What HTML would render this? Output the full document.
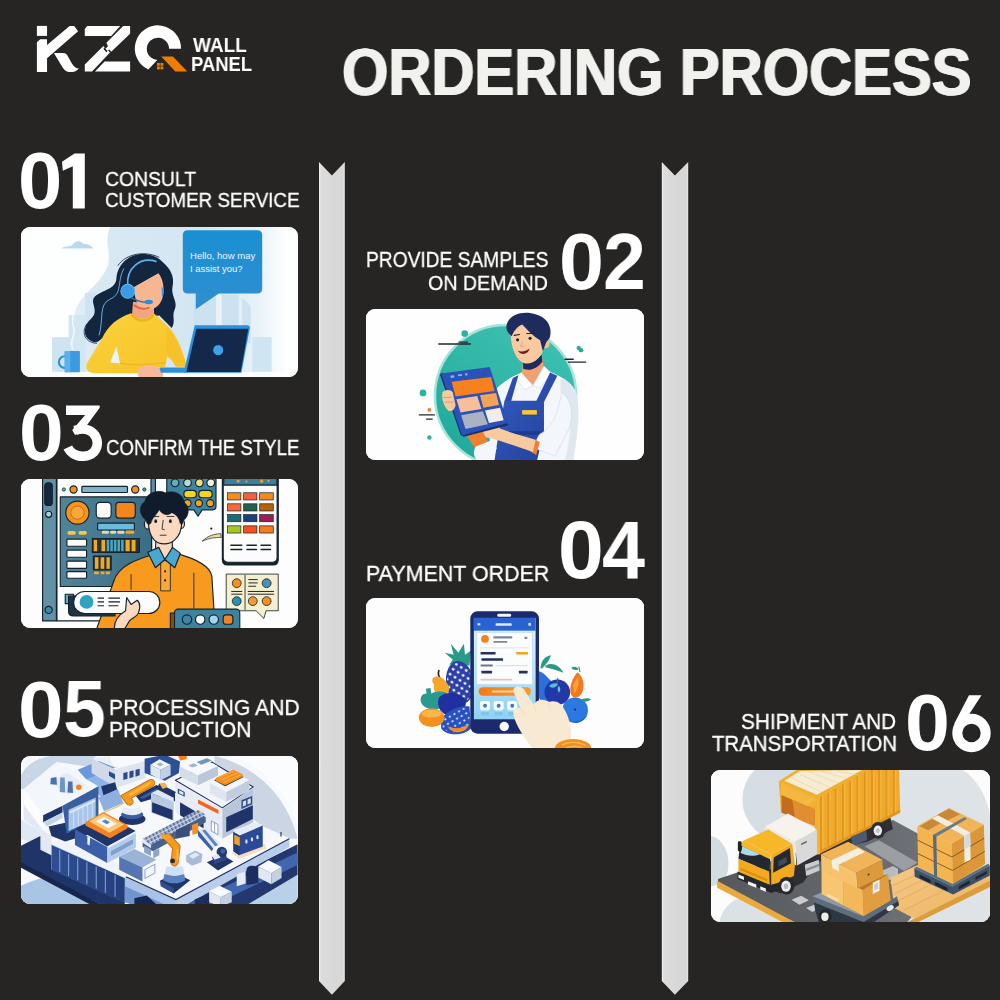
<!DOCTYPE html>
<html><head><meta charset="utf-8"><title>Ordering Process</title>
<style>
html,body{margin:0;padding:0}
body{width:1000px;height:1000px;background:#262524;position:relative;overflow:hidden;font-family:"Liberation Sans",sans-serif}
.t{position:absolute;will-change:transform;white-space:nowrap;line-height:1;transform-origin:0 0;color:#fff}
.n{-webkit-text-stroke:0.3px #fff}
.ttl{text-shadow:1px 0 0 #f1f1ed,-1px 0 0 #f1f1ed}
.card{position:absolute;background:#fff;border-radius:9px;overflow:hidden}
.card svg{position:absolute;left:0;top:0;width:100%;height:100%;display:block}
svg.abs{position:absolute;left:0;top:0}
</style></head><body>
<svg class="abs" width="1000" height="1000" viewBox="0 0 1000 1000">
<defs>
<linearGradient id="barg" x1="0" x2="1" y1="0" y2="0"><stop offset="0" stop-color="#f2f2f2"/><stop offset="0.08" stop-color="#dcdcdc"/><stop offset="0.92" stop-color="#d6d6d6"/><stop offset="1" stop-color="#e6e6e6"/></linearGradient>
</defs>
<polygon fill="url(#barg)" points="319,162 331.9,175.4 344.8,162 344.8,981 331.9,994.8 319,981"/>
<polygon fill="url(#barg)" points="661.8,162 674.9,175.6 688.2,162 688.2,981 674.9,994.8 661.8,981"/>
<g id="logo">
<!-- K -->
<path fill="#fff" d="M36.9,25.9 H47.05 V35.9 H36.9 Z"/>
<path fill="#fff" d="M36.9,42.3 L40.2,39.3 H47.05 V45 L69.6,25.9 L74.2,26 L78.1,31.3 L47.05,58.2 V71.9 H36.9 Z"/>
<path fill="#fff" d="M53.9,53 H63 C66,53 67,54.5 68.5,57.4 C70.5,61 72,64 74,66.2 C75.5,67.8 77,68.3 78.9,68.4 C77.5,70 76,71.2 74,71.7 C72,72.1 70,72.1 68.5,71.9 C66.5,71.5 65.3,70.8 64.1,69.5 C62.8,68 61.8,66.3 60.8,64.5 Z"/>
<!-- Z -->
<path fill="#fff" d="M87.2,26 H120.2 L111.2,35.9 H84.8 V29 Z"/>
<path fill="#fff" d="M123.2,26 H130.1 V33.8 L111.2,51.8 L109.2,49.6 L107.6,51 L105.4,48.8 L108,46.2 L106.4,42.8 Z"/>
<path fill="#fff" d="M103.4,46.1 L104.6,47.4 L103.4,49 L106.4,52.2 L108.2,50.6 L110,52.4 L92,71.6 H84.8 V64.4 Z"/>
<path fill="#fff" d="M104.6,61.4 H130.1 V71.6 H95 Z"/>
<!-- Q -->
<path fill="#fff" d="M181,48.8 A23.1,23.1 0 1 0 148.3,69.5 L157.3,59.9 A11.1,11.1 0 1 1 169,48.8 Z"/>
<path fill="#f07c00" d="M161.2,56.6 H172.9 L187.3,71.6 H175.3 Z"/>
<g fill="#f07c00"><rect x="157" y="62.9" width="2.8" height="2.9"/><rect x="160.5" y="62.9" width="2.8" height="2.9"/><rect x="157" y="66.5" width="2.8" height="2.9"/><rect x="160.5" y="66.5" width="2.8" height="2.9"/></g>
</g>

<g fill="#fff">
<g transform="translate(10,140) scale(0.1)"><path d="M645,135 H748 V685 H628 V262 L528,308 L520,218 Z"/></g>
<g transform="translate(10,395) scale(0.1)"><path d="M560,105 H897 V128 L745,335 L650,400 L622,350 L752,200 H560 Z"/><path fill="none" stroke="#fff" stroke-width="95" d="M650,355 C710,332 785,335 835,385 C885,440 885,520 840,570 C785,625 690,625 630,585 C605,568 590,550 578,525"/></g>
<g transform="translate(900,680) scale(0.1)"><circle cx="715" cy="530" r="142" fill="none" stroke="#fff" stroke-width="100"/><path d="M690,152 H815 L690,345 L600,400 L538,445 Z"/></g>
</g>

</svg>
<div class="t ttl" style="left:342.11px;top:39.07px;font-size:66.2px;font-weight:bold;transform:scaleX(0.9009);color:#f1f1ed">ORDERING PROCESS</div>
<div class="t" style="left:192.6px;top:35.65px;font-size:19.71px;font-weight:bold;transform:scaleX(0.964);color:#fff">WALL</div>
<div class="t" style="left:191.31px;top:54.35px;font-size:20.29px;font-weight:bold;transform:scaleX(0.9092);color:#fff">PANEL</div>
<div class="t n" style="left:105.03px;top:167.83px;font-size:21.13px;font-weight:normal;transform:scaleX(0.916);color:#fff">CONSULT</div>
<div class="t n" style="left:104.66px;top:190.47px;font-size:20.85px;font-weight:normal;transform:scaleX(0.9015);color:#fff">CUSTOMER SERVICE</div>
<div class="t n" style="left:366.46px;top:250.19px;font-size:21.41px;font-weight:normal;transform:scaleX(0.8964);color:#fff">PROVIDE SAMPLES</div>
<div class="t n" style="left:428.02px;top:271.83px;font-size:21.13px;font-weight:normal;transform:scaleX(0.9293);color:#fff">ON DEMAND</div>
<div class="t n" style="left:106.42px;top:436.86px;font-size:21.62px;font-weight:normal;transform:scaleX(0.8628);color:#fff">CONFIRM THE STYLE</div>
<div class="t n" style="left:366.29px;top:562.62px;font-size:22.54px;font-weight:normal;transform:scaleX(0.9507);color:#fff">PAYMENT ORDER</div>
<div class="t n" style="left:108.8px;top:696.04px;font-size:22.75px;font-weight:normal;transform:scaleX(0.9315);color:#fff">PROCESSING AND</div>
<div class="t n" style="left:108.8px;top:718.52px;font-size:22.54px;font-weight:normal;transform:scaleX(0.9403);color:#fff">PRODUCTION</div>
<div class="t n" style="left:740.96px;top:711.35px;font-size:21.69px;font-weight:normal;transform:scaleX(0.9558);color:#fff">SHIPMENT AND</div>
<div class="t n" style="left:711.59px;top:734.19px;font-size:21.41px;font-weight:normal;transform:scaleX(0.954);color:#fff">TRANSPORTATION</div>
<div class="t" style="left:17.63px;top:140.56px;font-size:79.58px;font-weight:bold;transform:scaleX(0.9946);color:#fff">0</div>
<div class="t" style="left:558.77px;top:222.06px;font-size:79.58px;font-weight:bold;transform:scaleX(1.016);color:#fff">0</div>
<div class="t" style="left:603.49px;top:222.11px;font-size:79.29px;font-weight:bold;transform:scaleX(0.9704);color:#fff">2</div>
<div class="t" style="left:18.78px;top:392.56px;font-size:79.58px;font-weight:bold;transform:scaleX(1.0107);color:#fff">0</div>
<div class="t" style="left:557.51px;top:509.85px;font-size:80.99px;font-weight:bold;transform:scaleX(1.0167);color:#fff">0</div>
<div class="t" style="left:602.45px;top:509.4px;font-size:81.88px;font-weight:bold;transform:scaleX(0.9447);color:#fff">4</div>
<div class="t" style="left:18.22px;top:669.46px;font-size:80.28px;font-weight:bold;transform:scaleX(1.0203);color:#fff">0</div>
<div class="t" style="left:63.19px;top:669.2px;font-size:80.0px;font-weight:bold;transform:scaleX(0.9625);color:#fff">5</div>
<div class="t" style="left:904.77px;top:682.46px;font-size:80.28px;font-weight:bold;transform:scaleX(1.0071);color:#fff">0</div>

<div class="card" style="left:21.4px;top:227px;width:276.6px;height:150px"><svg viewBox="0 0 1000 542" preserveAspectRatio="none">
<defs>
<linearGradient id="c1bg" x1="0" x2="1" y1="0" y2="0"><stop offset="0" stop-color="#e2eef6"/><stop offset="0.12" stop-color="#d8e9f4"/><stop offset="0.6" stop-color="#d3e6f2"/><stop offset="0.85" stop-color="#e6f1f8"/><stop offset="1" stop-color="#fdfefe"/></linearGradient>
<linearGradient id="c1bub" x1="0" x2="0" y1="0" y2="1"><stop offset="0" stop-color="#1a8fd4"/><stop offset="1" stop-color="#2f8fcf"/></linearGradient>
<linearGradient id="c1yel" x1="0" x2="1" y1="0" y2="1"><stop offset="0" stop-color="#fbd23a"/><stop offset="1" stop-color="#f7c228"/></linearGradient>
</defs>
<rect width="1000" height="542" fill="#fdfefe"/>
<path fill="url(#c1bg)" d="M322,0 C292,70 345,110 295,175 C255,235 195,255 192,335 L192,524 L960,524 L960,0 Z"/>

<!-- buildings -->
<rect x="112" y="398" width="90" height="125" fill="#cfe4f1"/>
<rect x="172" y="318" width="62" height="205" fill="#d3e7f3"/>
<rect x="232" y="238" width="40" height="120" fill="#cfe3f0"/>
<rect x="625" y="245" width="80" height="120" fill="#cde2f0"/>
<rect x="725" y="245" width="62" height="120" fill="#cde2f0"/>
<path d="M800,255 L830,285 L830,420 L800,420Z" fill="#cde2f0"/>
<rect x="705" y="245" width="20" height="120" fill="#e9f3f9"/>
<rect x="836" y="398" width="70" height="125" fill="#d0e5f2"/>
<!-- cloud -->
<path fill="#b9d9ef" d="M145,78 C160,68 175,72 185,66 C195,50 215,46 225,62 C240,60 255,68 262,78 Z"/>
<!-- steam -->
<path d="M187,440 C170,410 205,390 188,355 C180,335 195,320 190,300" fill="none" stroke="#f4fafd" stroke-width="5" stroke-linecap="round"/>
<!-- bubble -->
<path fill="url(#c1bub)" d="M603,12 H854 Q872,12 872,30 V222 Q872,240 854,240 H715 L632,297 V240 H603 Q585,240 585,222 V30 Q585,12 603,12Z"/>
<text x="611" y="116" font-family="Liberation Sans, sans-serif" font-size="34" fill="#eaf6fd" textLength="236" lengthAdjust="spacingAndGlyphs">Hello, how may</text>
<text x="611" y="164" font-family="Liberation Sans, sans-serif" font-size="34" fill="#eaf6fd" textLength="190" lengthAdjust="spacingAndGlyphs">I assist you?</text>
<!-- hair back -->
<path fill="#12263f" d="M440,98 C395,98 350,130 345,185 C342,225 300,225 268,250 C245,272 285,300 255,330 C225,355 222,395 250,410 C265,420 280,418 290,405 L400,330 L500,320 L545,365 C560,345 545,320 555,300 C570,270 540,250 548,215 C556,180 540,150 510,125 C490,105 465,98 440,98Z"/>
<path fill="none" stroke="#12263f" stroke-width="3" d="M350,140 C380,95 450,85 500,110"/>
<path fill="none" stroke="#12263f" stroke-width="3" d="M238,350 C215,385 235,420 275,420"/>
<!-- neck -->
<path fill="#f3a583" d="M405,270 L480,280 L482,335 L400,335Z"/>
<!-- sweater -->
<path fill="url(#c1yel)" d="M398,312 C350,328 315,355 292,405 L238,492 C230,515 245,528 270,528 L432,528 L440,506 L522,506 L528,468 L560,492 L592,502 C588,450 565,392 530,358 C510,338 492,322 480,312 C462,338 420,338 398,312Z"/>
<path fill="none" stroke="#eeb21c" stroke-width="9" d="M400,316 C420,345 462,345 480,316"/>
<path fill="#e9f3f9" d="M345,432 L358,492 L322,490Z"/>
<path fill="none" stroke="#efb61f" stroke-width="4" d="M358,492 C400,500 470,500 522,490"/>
<path fill="#f7c228" d="M528,365 C560,400 590,450 598,505 L560,505 L525,450Z"/>
<!-- face -->
<path fill="#f6b692" d="M408,215 L497,166 C512,185 518,215 514,245 C510,275 490,298 460,300 C430,300 410,275 408,215Z"/>
<path fill="none" stroke="#e8683e" stroke-width="7" stroke-linecap="round" d="M410,283 C425,296 445,298 462,292"/>
<!-- hair front swoop -->
<path fill="#12263f" d="M400,225 C395,170 430,125 470,125 C500,128 520,160 515,200 C512,190 505,175 497,166 L410,216Z"/>
<!-- headset -->
<path fill="none" stroke="#5fb2ec" stroke-width="6" d="M386,212 C380,150 430,105 490,125"/>
<path fill="none" stroke="#7fc1f0" stroke-width="3" d="M372,150 C345,200 370,240 320,262 C280,282 300,330 282,392"/>
<circle cx="386" cy="232" r="25" fill="#3a9be2" stroke="#62b4ee" stroke-width="4"/>
<path fill="#3a9be2" d="M508,212 Q522,235 510,258 Z"/>
<path fill="none" stroke="#1f6db0" stroke-width="5" stroke-linecap="round" d="M400,256 C420,268 440,272 458,273"/>
<ellipse cx="462" cy="271" rx="15" ry="8" fill="#2f8edb"/>
<!-- hand -->
<path fill="#f6b89a" d="M420,520 C425,500 460,495 490,505 C510,512 518,530 512,542 L425,542Z"/>
<!-- laptop -->
<path fill="#2a90dc" d="M500,508 L602,508 L596,527 L506,527Z"/>
<path fill="#2a90dc" d="M628,355 L818,355 Q830,356 827,368 L797,527 L588,527Z"/>
<path fill="#13284b" d="M634,368 L822,368 L794,524 L598,524Z"/>
<circle cx="713" cy="445" r="20" fill="#3ea2e8" stroke="#0e1f3c" stroke-width="3"/>
<!-- mug -->
<circle cx="158" cy="488" r="21" fill="none" stroke="#2f8fd8" stroke-width="8"/>
<rect x="158" y="448" width="55" height="77" rx="3" fill="#3a9be2"/>
<rect x="158" y="448" width="20" height="77" rx="3" fill="#5cb1ec"/>
</svg>
</div>
<div class="card" style="left:366.4px;top:308.5px;width:278.1px;height:151.5px"><svg viewBox="0 0 1000 545" preserveAspectRatio="none">
<defs>
<linearGradient id="c2teal" x1="0.8" x2="0.2" y1="0" y2="1"><stop offset="0" stop-color="#3fc1b1"/><stop offset="1" stop-color="#1fa99b"/></linearGradient>
<linearGradient id="c2blue" x1="0" x2="1" y1="0" y2="1"><stop offset="0" stop-color="#3158bd"/><stop offset="1" stop-color="#24449c"/></linearGradient>
</defs>
<rect width="1000" height="545" fill="#fefefe"/>
<circle cx="502" cy="312" r="254" fill="url(#c2teal)" stroke="#a9e3db" stroke-width="9"/>
<!-- decorations -->
<circle cx="355" cy="88" r="12" fill="#2bb39f"/><circle cx="205" cy="302" r="12" fill="#2bb39f"/><circle cx="228" cy="462" r="8" fill="#2bb39f"/>
<circle cx="765" cy="140" r="8" fill="#2bb39f"/><circle cx="773" cy="148" r="8" fill="#25a893"/><circle cx="228" cy="363" r="7" fill="#f08030"/>
<g stroke="#26242b" stroke-width="5" stroke-linecap="round"><path d="M262,126 H375"/><path d="M335,119 H365"/><path d="M716,181 H745"/><path d="M728,191 H790"/><path d="M192,381 H246"/><path d="M218,396 H238"/></g>
<!-- shirt body -->
<path fill="#f3f6fb" d="M470,285 C500,255 540,235 570,225 L650,220 C700,240 745,265 755,300 C770,360 765,430 745,545 L440,545 C450,480 440,420 450,370 C455,335 460,305 470,285Z"/>
<path fill="#dfe7f3" d="M700,300 C740,340 745,430 715,545 L745,545 C765,430 770,360 755,300 C745,275 720,255 700,250Z"/>
<!-- neck -->
<path fill="#f3a070" d="M565,185 L632,160 L640,225 L600,275 L560,235Z"/>
<path fill="#1d2c5c" d="M565,190 C585,200 610,185 632,165 L634,190 C615,215 590,225 565,215Z"/>
<!-- collar -->
<path fill="#ffffff" stroke="#c9d4e8" stroke-width="2" d="M558,228 L600,275 L570,290 L540,250Z"/>
<path fill="#ffffff" stroke="#c9d4e8" stroke-width="2" d="M640,205 L668,232 L625,285 L600,275Z"/>
<!-- overalls -->
<path fill="url(#c2blue)" d="M528,248 L548,238 L522,332 L498,332Z"/>
<path fill="url(#c2blue)" d="M662,228 L688,240 L640,335 L612,332Z"/>
<path fill="url(#c2blue)" d="M498,330 L640,330 L640,440 L615,545 L462,545 L478,440Z"/>
<path fill="#1f3a8c" d="M478,440 L640,440 L636,452 L476,452Z"/>
<rect x="560" y="362" width="56" height="19" rx="3" fill="#f5c540" stroke="#1c2f78" stroke-width="2"/>
<!-- right arm (viewer right) -->
<path fill="#f3f6fb" stroke="#cdd8ea" stroke-width="2" d="M705,300 C745,330 750,400 720,450 C705,480 690,510 680,530 L605,500 C610,480 615,462 625,450 C650,440 680,400 690,360Z"/>
<path fill="#f08030" d="M608,470 L625,478 L612,525 L596,515Z"/>
<path fill="#f9c9a0" d="M610,470 C560,455 500,440 460,420 C435,410 405,420 400,435 C398,450 420,462 450,465 C500,480 560,500 600,515Z"/>
<!-- left sleeve & orange -->
<path fill="#f08030" d="M362,455 L420,440 L440,480 L390,498Z"/>
<path fill="#f3f6fb" d="M395,495 L445,475 L470,500 L455,545 L400,545 C385,530 385,510 395,495Z"/>
<!-- tablet -->
<path fill="#1a2e70" d="M266,236 L276,228 L352,458 L340,452Z"/>
<path fill="#1a2e70" d="M340,452 L505,408 L512,418 L352,460Z"/>
<path fill="#2b52b8" d="M270,232 L445,209 L510,410 L345,455Z"/>
<path fill="#f5821f" d="M308,262 L450,245 L462,295 L322,315Z"/>
<path fill="#f6bf9a" d="M325,325 L400,313 L415,360 L340,372Z"/>
<path fill="#f5a35a" d="M410,310 L468,302 L478,345 L422,355Z"/>
<path fill="#aab2c4" d="M342,382 L420,368 L438,415 L358,432Z"/>
<path fill="#f1eee9" d="M428,365 L482,355 L495,400 L442,410Z"/>
<path fill="#7fb6ee" d="M303,240 L316,238 L318,246 L305,248Z"/><path fill="#7fb6ee" d="M330,236 L345,234 L346,240 L331,242Z"/><path fill="#7fb6ee" d="M355,232 L364,231 L366,238 L357,239Z"/>
<!-- left hand -->
<path fill="#f9c9a0" d="M275,300 C285,288 305,290 312,300 L322,345 C320,362 305,372 295,365 C280,350 270,320 275,300Z"/>
<path fill="none" stroke="#d9895c" stroke-width="2.5" d="M278,318 H308 M282,335 H314"/>
<!-- head -->
<circle cx="646" cy="126" r="15" fill="#f6bd92"/>
<path fill="#f9c9a0" d="M520,90 C520,60 560,45 600,50 C635,55 648,90 642,130 C636,170 605,198 575,196 C545,192 522,150 520,90Z"/>
<path fill="#1d2c5c" d="M505,62 C508,25 560,2 612,20 C655,32 672,70 660,105 L648,120 L636,152 L626,112 C600,98 580,75 562,56 C545,62 532,78 524,98 C512,88 503,76 505,62Z"/>
<circle cx="545" cy="111" r="5.5" fill="#26202a"/><circle cx="590" cy="105" r="5.5" fill="#26202a"/>
<path fill="none" stroke="#26202a" stroke-width="4" stroke-linecap="round" d="M533,95 L552,92 M578,88 L600,88"/>
<path fill="#6a2020" d="M546,150 C560,156 575,152 588,142 C584,162 560,170 546,150Z"/>
<path fill="none" stroke="#e29a6c" stroke-width="3" d="M562,118 L556,134 L565,136"/>
</svg>
</div>
<div class="card" style="left:21.4px;top:478.6px;width:276.6px;height:149.4px"><svg viewBox="0 0 1000 542" preserveAspectRatio="none">
<defs>
<linearGradient id="c3pan" x1="0" x2="1" y1="0" y2="0"><stop offset="0" stop-color="#4f8499"/><stop offset="1" stop-color="#3b6d84"/></linearGradient>
</defs>
<rect width="1000" height="542" fill="#fdfdfd"/>
<g stroke="#15222c" stroke-width="4.2" stroke-linejoin="round">
<!-- window -->
<rect x="130" y="-5" width="342" height="520" fill="#fbfcfc"/>
<rect x="470" y="-5" width="16" height="62" fill="#5a8fb0"/>
<!-- left rail -->
<rect x="78" y="-5" width="50" height="520" fill="#6290a5"/>
<rect x="86" y="14" width="27" height="82" rx="11" fill="#14283c"/>
<circle cx="100" cy="128" r="11" fill="#a8d4dc"/>
<circle cx="100" cy="475" r="13" fill="#3a8aa6"/>
<!-- top bar -->
<circle cx="155" cy="38" r="6" fill="#5fb0b0" stroke-width="2.5"/>
<circle cx="190" cy="38" r="13" fill="#f5901e"/>
<rect x="220" y="27" width="165" height="22" rx="3" fill="#7fb3cc"/>
<circle cx="413" cy="38" r="13" fill="#f5901e"/>
<circle cx="446" cy="38" r="6" fill="#3f9a90" stroke-width="2.5"/>
<!-- panel -->
<rect x="142" y="65" width="330" height="325" fill="url(#c3pan)"/>
<circle cx="204" cy="122" r="42" fill="#f5941e"/>
<circle cx="204" cy="122" r="24" fill="#f7a83a" stroke="#c8620c" stroke-width="3"/>
<rect x="272" y="85" width="54" height="57" rx="13" fill="#fbfbf8"/>
<rect x="343" y="85" width="70" height="57" rx="11" fill="#f5861f"/>
<rect x="277" y="160" width="133" height="25" rx="3" fill="#6bbbdc"/>
<rect x="166" y="218" width="71" height="26" rx="3" fill="#fdfdfd"/>
<rect x="166" y="258" width="71" height="26" rx="3" fill="#fdfdfd"/>
<rect x="166" y="298" width="71" height="26" rx="3" fill="#fdfdfd"/>
<rect x="166" y="336" width="71" height="24" rx="3" fill="#fdfdfd"/>
<rect x="258" y="216" width="170" height="50" fill="#1e3540"/>
<rect x="262" y="280" width="64" height="50" fill="#1e3540"/>
</g>
<g fill="#f6c84a"><rect x="168" y="189" width="30" height="13" rx="6"/><rect x="208" y="189" width="30" height="13" rx="6"/></g>
<g fill="#d9dcb8"><rect x="292" y="188" width="26" height="11" rx="5"/><rect x="322" y="188" width="22" height="11" rx="5"/><rect x="348" y="188" width="26" height="11" rx="5"/></g><rect x="378" y="187" width="32" height="12" rx="5" fill="#f5a030"/>
<g fill="#f5a81f"><rect x="263" y="221" width="12" height="41"/><rect x="291" y="221" width="13" height="41"/><rect x="378" y="221" width="15" height="41"/><rect x="400" y="221" width="14" height="41"/>
<rect x="267" y="284" width="13" height="42"/><rect x="288" y="284" width="13" height="42"/><rect x="309" y="284" width="12" height="42"/>
<rect x="264" y="336" width="18" height="10" rx="4"/><rect x="288" y="336" width="14" height="10" rx="4"/><rect x="306" y="336" width="16" height="10" rx="4"/></g>
<g fill="#4aa8c0"><rect x="310" y="221" width="9" height="41"/><rect x="323" y="221" width="9" height="41"/><rect x="336" y="221" width="9" height="41"/><rect x="349" y="221" width="9" height="41"/><rect x="362" y="221" width="9" height="41"/></g>
<g stroke="#15222c" stroke-width="4.2" stroke-linejoin="round">
<!-- top bubble -->
<path fill="#3f86a3" d="M527,-5 H705 V100 Q705,112 693,112 H655 L640,135 L625,112 H540 Q527,112 527,100Z"/>
<circle cx="557" cy="14" r="14" fill="#5fb0b0"/><circle cx="602" cy="14" r="14" fill="#b8d8d0"/><circle cx="645" cy="14" r="14" fill="#f0e070"/><circle cx="686" cy="14" r="14" fill="#f4f0e0"/>
<rect x="589" y="41" width="45" height="27" rx="12" fill="#f5d31f"/><rect x="643" y="41" width="48" height="27" rx="12" fill="#f5d31f"/>
<circle cx="602" cy="88" r="13" fill="#f5a020"/><circle cx="643" cy="88" r="13" fill="#f5a020"/><circle cx="684" cy="88" r="13" fill="#f5a020"/>
<!-- beak -->
<path fill="#e8dfa0" d="M655,226 C675,205 700,200 722,198 L724,212 C700,212 680,214 655,226Z" stroke-width="2.5"/>
<circle cx="688" cy="180" r="4" fill="#15222c" stroke="none"/>
<!-- phone panel -->
<path fill="#15222c" d="M728,-5 H930 V292 Q930,312 912,312 H746 Q728,312 728,292Z"/>
<path fill="#fcfcfc" d="M731,-5 H926 V285 Q926,302 910,302 H747 Q731,302 731,285Z"/>
<rect x="733" y="-5" width="192" height="27" fill="#3d7f9a"/>
</g>
<g fill="#f5a020"><circle cx="785" cy="8" r="5"/><circle cx="815" cy="9" r="4"/><circle cx="870" cy="8" r="6"/><circle cx="895" cy="7" r="4"/></g>
<g stroke="#15222c" stroke-width="2.5">
<rect x="747" y="50" width="48" height="26" fill="#f58a1f"/><rect x="805" y="50" width="48" height="26" fill="#f4603a"/><rect x="863" y="50" width="49" height="26" fill="#f58a1f"/>
<rect x="747" y="90" width="48" height="26" fill="#f46a3a"/><rect x="805" y="90" width="48" height="26" fill="#24604e"/><rect x="863" y="90" width="49" height="26" fill="#b8600c"/>
<rect x="747" y="129" width="48" height="26" fill="#1e6a72"/><rect x="805" y="129" width="48" height="26" fill="#1f3f7a"/><rect x="863" y="129" width="49" height="26" fill="#9a1f4e"/>
<rect x="747" y="170" width="48" height="26" fill="#a8c820"/><rect x="805" y="170" width="48" height="26" fill="#f4501f"/><rect x="863" y="170" width="49" height="26" fill="#f57a20"/>
</g>
<g stroke="#15222c" stroke-width="5.5" stroke-linecap="round"><path d="M759,240 H798 M817,240 H851 M868,240 H902 M759,256 H798 M817,256 H851 M868,256 H902"/></g>
<!-- lower right card -->
<g stroke="#15222c" stroke-width="3" stroke-linejoin="round">
<path fill="#f6efcf" d="M742,345 H930 V478 H886 L878,506 L850,478 H742Z"/>
<path d="M810,348 V475" fill="none"/>
<circle cx="780" cy="378" r="16" fill="#f5901e"/><circle cx="888" cy="378" r="16" fill="#4a90b8"/>
<circle cx="780" cy="443" r="16" fill="#2f8fb0"/><circle cx="838" cy="443" r="16" fill="#f59a3a"/><circle cx="888" cy="443" r="16" fill="#f5901e"/>
<path d="M822,365 H856 M822,377 H856 M822,389 H850 M760,408 H800 M760,418 H800 M820,408 H915 M820,418 H915" fill="none" stroke-width="3.5"/>
</g>
<!-- man: shirt -->
<g stroke="#15222c" stroke-width="4.2" stroke-linejoin="round">
<path fill="#f79a1e" d="M485,272 C420,290 350,315 335,372 L272,548 L702,548 L690,352 C682,312 620,286 560,270 L520,292Z"/>
<path d="M398,345 V402 M625,340 V470" fill="none" stroke-width="3"/>
<path fill="#fbd9c0" d="M488,215 L546,215 L548,262 L520,292 L486,262Z"/>
<rect x="505" y="296" width="35" height="110" fill="#f7a838" stroke-width="3"/>
<path fill="#4aa8d0" d="M458,266 L498,248 L520,292 L486,322Z"/>
<path fill="#4aa8d0" d="M548,248 L576,270 L556,322 L520,292Z"/>
<!-- ears + face -->
<ellipse cx="457" cy="165" rx="11" ry="17" fill="#fbd9c0"/><ellipse cx="580" cy="162" rx="11" ry="17" fill="#fbd9c0"/>
<path fill="#fbd9c0" d="M463,120 C470,95 570,95 578,120 C585,160 580,200 555,222 C535,240 500,240 482,222 C460,200 458,160 463,120Z"/>
<!-- hair -->
<path fill="#101c2c" stroke-width="2" d="M452,150 C425,130 425,95 448,82 C450,55 490,35 522,50 C550,38 590,55 590,85 C612,100 608,135 588,150 C585,165 580,170 575,160 C572,140 560,128 545,122 C530,135 510,130 500,112 C490,130 475,140 470,160 C462,170 455,165 452,150Z"/>
</g>
<ellipse cx="487" cy="153" rx="5" ry="7" fill="#15222c"/><ellipse cx="540" cy="153" rx="5" ry="7" fill="#15222c"/>
<path d="M474,136 H498 M528,136 H553 M514,150 L510,182 L518,184 M503,204 H525" fill="none" stroke="#15222c" stroke-width="3" stroke-linecap="round"/>
<circle cx="521" cy="335" r="4" fill="#15222c"/><circle cx="521" cy="368" r="4" fill="#15222c"/>
<!-- pill bubble -->
<g stroke="#15222c" stroke-width="4.2" stroke-linejoin="round">
<rect x="160" y="418" width="30" height="34" fill="#5ab0d0"/>
<path fill="#1c3444" d="M172,425 H340 V497 H190 Q172,497 172,480Z"/>
<rect x="190" y="408" width="312" height="80" rx="40" fill="#fbfcfd"/>
<circle cx="237" cy="446" r="25" fill="#2fa3c2" stroke="none"/>
<path d="M277,432 H300 M316,432 H358 M277,446 H300 M316,446 H358 M277,460 H300 M316,460 H352" fill="none"/>
<!-- hand -->
<path fill="#fbd9c0" d="M338,548 C335,520 350,495 378,478 L382,430 L398,455 L420,440 C432,450 430,470 425,485 C420,500 400,505 392,515 L372,548Z"/>
<!-- bottom device -->
<rect x="540" y="486" width="18" height="62" fill="#8a4a14"/>
<rect x="555" y="472" width="236" height="80" rx="13" fill="#3d83a0" stroke-width="4"/>
<circle cx="600" cy="510" r="17" fill="#3b86a6"/><circle cx="648" cy="510" r="17" fill="#fbfbf8"/><circle cx="697" cy="510" r="17" fill="#a8d4e8"/><rect x="731" y="493" width="35" height="34" rx="10" fill="#f5821f"/>
</g>
</svg>
</div>
<div class="card" style="left:366.4px;top:597.6px;width:278.1px;height:150.9px"><svg viewBox="0 0 1000 545" preserveAspectRatio="none">
<defs>
<linearGradient id="c4scr" x1="0" x2="0" y1="0" y2="1"><stop offset="0" stop-color="#e4f3fb"/><stop offset="0.6" stop-color="#b4e0f6"/><stop offset="1" stop-color="#8fd2f2"/></linearGradient>
<linearGradient id="c4btn" x1="0" x2="1" y1="0" y2="0"><stop offset="0" stop-color="#f57a18"/><stop offset="1" stop-color="#f79a2e"/></linearGradient>
<pattern id="c4dots" width="21" height="21" patternUnits="userSpaceOnUse" patternTransform="rotate(40)"><ellipse cx="10" cy="10" rx="5.5" ry="4.5" fill="#f4f7fd"/></pattern>
<pattern id="c4dots2" width="19" height="19" patternUnits="userSpaceOnUse" patternTransform="rotate(-30)"><ellipse cx="9" cy="9" rx="4.5" ry="3.5" fill="#d9ecfb"/></pattern>
</defs>
<rect width="1000" height="545" fill="#fdfdfd"/>
<!-- left fruits -->
<path fill="#2a9a88" d="M283,198 L315,205 L305,165 L332,198 L352,165 L356,205 L378,190 L372,245 L300,240 L312,222Z"/>
<ellipse cx="338" cy="305" rx="50" ry="78" fill="#2b3fa8" transform="rotate(-8 338 305)"/>
<ellipse cx="338" cy="305" rx="46" ry="72" fill="url(#c4dots)" transform="rotate(-8 338 305)"/>
<path d="M262,262 C258,275 262,285 268,292" stroke="#2a2418" stroke-width="6" fill="none" stroke-linecap="round"/>
<path fill="#f5a828" d="M240,290 C250,278 275,285 285,300 C305,320 305,345 280,350 C255,355 238,335 245,312 C238,305 236,296 240,290Z"/>
<path fill="#2a9a90" d="M215,328 L232,325 L235,345 C255,335 285,335 295,350 C300,380 280,402 245,402 C210,402 190,380 198,358 C202,348 210,345 218,345Z"/>
<path fill="#2030a0" d="M262,360 C285,335 335,340 355,365 C368,385 350,415 315,425 C280,430 250,400 262,360Z"/>
<path fill="#2850c0" d="M270,445 C275,415 330,385 372,392 L378,470 C350,500 290,500 270,470Z"/>
<path fill="url(#c4dots2)" d="M275,445 C280,418 330,392 370,398 L374,465 C350,492 295,492 275,468Z"/>
<ellipse cx="236" cy="432" rx="46" ry="34" fill="#f5901e"/>
<ellipse cx="236" cy="418" rx="36" ry="14" fill="#f9b64a"/>
<path fill="#f5901e" d="M293,462 C315,475 345,472 370,455 C365,485 315,500 293,462Z"/>
<!-- right fruits -->
<path fill="#2a9a88" d="M628,250 C630,225 645,210 665,207 C660,225 648,240 632,256Z"/>
<path fill="#2a9a88" d="M645,245 C665,230 695,240 710,270 C690,262 668,255 645,250Z"/>
<path fill="#2a70d8" d="M622,265 C645,270 655,295 672,305 C690,320 690,360 660,372 C640,378 625,370 622,360Z"/>
<circle cx="688" cy="340" r="46" fill="#2238a8"/>
<path d="M690,290 L686,312" stroke="#1c7a70" stroke-width="5"/>
<path fill="#5ab8d8" d="M658,318 C668,306 684,306 690,312 C682,325 668,328 658,318Z"/><path fill="#6ac0e0" d="M692,318 C700,322 700,335 694,342 C688,335 688,325 692,318Z"/>
<path fill="#2a9a88" d="M738,252 C748,245 760,248 764,258 C752,262 744,260 738,252Z"/><path d="M765,248 L770,268" stroke="#2a9a88" stroke-width="4"/>
<path fill="#f5781f" d="M760,268 C785,285 790,330 770,352 C755,365 738,360 735,340 C732,315 745,285 760,268Z"/>
<path fill="#f9a040" d="M745,315 C750,300 758,290 764,285 C766,310 760,335 748,345Z"/>
<circle cx="752" cy="405" r="46" fill="#2a78e0"/>
<path fill="#1f60c8" d="M720,438 C745,455 780,448 796,420 C790,440 770,452 750,451Z"/>
<circle cx="752" cy="403" r="4" fill="#16306a"/>
<path fill="#2a9a88" d="M770,370 C782,360 800,360 810,366 C798,376 782,378 770,370Z"/>
<!-- phone -->
<rect x="375" y="48" width="247" height="442" rx="26" fill="#1a2a6c"/>
<rect x="472" y="57" width="50" height="11" rx="5" fill="#f4f6fb"/>
<rect x="388" y="72" width="222" height="366" fill="url(#c4scr)"/>
<rect x="388" y="72" width="222" height="46" fill="#2a62d2"/>
<rect x="466" y="91" width="58" height="9" rx="2" fill="#dce9fb"/><rect x="401" y="91" width="10" height="8" fill="#dce9fb"/><rect x="584" y="90" width="9" height="10" fill="#dce9fb"/>
<rect x="398" y="124" width="200" height="188" fill="#fafcfe" stroke="#bde0f2" stroke-width="3"/>
<circle cx="428" cy="148" r="14" fill="#f5821f"/>
<g fill="#7a859a"><rect x="458" y="138" width="68" height="8" rx="2"/><rect x="458" y="155" width="50" height="7" rx="2"/><rect x="570" y="140" width="10" height="8"/></g>
<rect x="410" y="179" width="176" height="2.5" fill="#d2dbe6"/>
<g fill="#26305e"><rect x="412" y="195" width="54" height="9" rx="2"/><rect x="415" y="218" width="78" height="9" rx="2"/><rect x="415" y="263" width="38" height="10" rx="2"/><rect x="550" y="263" width="31" height="10" rx="2"/></g>
<rect x="540" y="195" width="43" height="9" rx="2" fill="#f5a020"/>
<rect x="412" y="240" width="44" height="7" rx="2" fill="#6a7690"/><rect x="466" y="243" width="116" height="3" fill="#cfd8e4"/>
<rect x="412" y="292" width="114" height="6" rx="2" fill="#e2c4c0"/>
<rect x="405" y="322" width="188" height="31" rx="15" fill="url(#c4btn)"/>
<rect x="452" y="334" width="92" height="7" rx="3" fill="#fbd2a0"/>
<g fill="#f6fbfe"><rect x="410" y="372" width="36" height="34" rx="9"/><rect x="459" y="372" width="36" height="34" rx="9"/><rect x="508" y="372" width="36" height="34" rx="9"/></g>
<g fill="#3a78d0"><circle cx="428" cy="389" r="7"/><circle cx="477" cy="389" r="7"/><circle cx="526" cy="389" r="7"/></g>
<g fill="#7cc6ee"><rect x="413" y="412" width="30" height="12" rx="5"/><rect x="462" y="412" width="30" height="12" rx="5"/><rect x="511" y="412" width="30" height="12" rx="5"/></g>
<circle cx="497" cy="464" r="17" fill="#fbfcfe"/>
<!-- hand -->
<path fill="#f8e9d2" d="M530,338 C526,318 556,312 568,330 L602,385 C615,365 640,362 656,376 C680,366 704,380 712,400 C732,432 742,480 736,512 L700,545 L600,545 C570,505 540,462 531,425 C526,402 540,392 556,398 Z"/>
<path fill="none" stroke="#eedcc0" stroke-width="3" d="M602,385 L612,410 M656,376 L660,400 M556,398 L575,425"/>
<ellipse cx="745" cy="545" rx="66" ry="36" fill="#f5901e"/>
<path fill="none" stroke="#f9b85a" stroke-width="5" d="M705,530 C730,518 760,518 790,532 M720,542 C740,534 760,534 780,542"/>
</svg>
</div>
<div class="card" style="left:21.4px;top:755.5px;width:276.6px;height:148.5px"><svg viewBox="0 0 1000 538" preserveAspectRatio="none">
<defs>
<linearGradient id="c5fence" x1="0" x2="1" y1="0" y2="0"><stop offset="0" stop-color="#2f4f92"/><stop offset="1" stop-color="#243e7c"/></linearGradient>
<pattern id="c5conv" width="14" height="14" patternUnits="userSpaceOnUse" patternTransform="rotate(-27)"><rect width="14" height="14" fill="#9fb2cf"/><rect width="5" height="14" fill="#50648e"/><rect y="0" width="14" height="3" fill="#dfe7f2"/></pattern>
</defs>
<rect width="1000" height="538" fill="#f7f9fc"/>
<!-- background shapes -->
<path fill="#c9d6e7" d="M0,70 C20,30 60,5 110,0 L270,0 L250,40 L130,22 L10,120 L0,120Z"/>
<path fill="#ccd5e3" d="M700,0 C830,30 960,130 1000,300 L940,300 L840,230 L840,110 L700,25Z"/>
<path fill="#fbfcfe" d="M760,0 L1000,0 L1000,250 C960,120 860,30 760,0Z"/>
<path fill="#a9c5e6" d="M0,470 C60,440 120,430 160,445 L330,538 L0,538Z"/>
<path fill="#dfe9f5" d="M0,230 L70,270 L70,330 L0,300Z"/>
<path fill="#b9d0ea" d="M1000,430 L1000,538 L820,538Z"/>
<!-- navy base road left -->
<path fill="#1f3468" d="M0,325 L70,290 L110,320 L110,410 L375,530 L375,538 L290,538 L0,395Z"/>
<path fill="#16264f" d="M0,385 L290,538 L250,538 L0,405Z"/>
<!-- navy road right-bottom -->
<path fill="#22386e" d="M400,538 L560,538 L1000,320 L1000,430 L820,538Z"/>
<path fill="#3f66ae" d="M600,538 L1000,350 L1000,395 L700,538Z"/>
<path fill="#6f96d2" d="M375,470 L560,538 L400,538 L375,530Z"/>
<!-- main floor slab -->
<path fill="#a9c3e6" d="M110,320 L560,520 L560,538 L520,538 L110,350Z"/>
<path fill="#b8cdea" d="M560,520 L970,300 L970,330 L600,538 L560,538Z"/>
<path fill="#f6f8fc" d="M110,318 L520,95 L970,298 L560,520Z"/>
<path fill="none" stroke="#1c2d5e" stroke-width="4" d="M320,410 L560,520 L970,300"/>
<!-- fence wall -->
<path fill="url(#c5fence)" d="M110,322 L375,442 L375,532 L110,412Z"/>
<path fill="#f0f4fa" d="M110,318 L150,298 L400,415 L375,442Z"/>
<g stroke="#7f9ed2" stroke-width="4"><path d="M140,340 V420 M172,355 V435 M205,370 V450 M238,385 V465 M272,400 V480 M305,415 V495 M340,430 V510"/></g>
<!-- top center buildings -->
<path fill="#6a98d8" d="M205,50 L300,10 L345,40 L240,90Z"/>
<path fill="#8cb4e8" d="M235,85 L330,45 L335,120 L290,150Z"/>
<path fill="#e9eef6" d="M255,8 L335,0 L450,18 L365,52Z"/>
<path fill="#f7f9fc" d="M320,0 L450,0 L450,20 L365,50 L330,30Z"/>
<path fill="#cfd9e8" d="M255,8 L340,48 L345,115 L255,62Z"/>
<path fill="#dde5f0" d="M340,48 L450,18 L450,80 L345,115Z"/>
<g fill="#2c4a8c"><path d="M370,62 L385,58 L385,82 L370,87Z"/><path d="M392,56 L407,52 L407,76 L392,81Z"/><path d="M414,50 L429,46 L429,70 L414,75Z"/><path d="M318,55 L340,66 L340,85 L318,72Z"/></g>
<path fill="#2c4f98" d="M447,10 L520,-5 L575,20 L571,62 L520,90 L447,62Z"/>
<path fill="#f4f7fb" d="M468,32 L501,12 L541,32 L505,50Z"/>
<path fill="#dfe7f2" d="M468,32 L505,50 L505,88 L468,66Z"/>
<path fill="#c3d0e4" d="M505,50 L541,32 L541,70 L505,88Z"/>
<path fill="#9fb6d8" d="M490,30 L503,23 L516,31 L503,38Z"/>
<path fill="#f5821f" d="M568,0 L600,0 L598,12 L575,16Z"/>
<path fill="#1f3468" d="M290,110 L340,95 L350,130 L300,150Z"/>
<path fill="#8fb0de" d="M280,150 L350,120 L370,170 L300,200Z"/>
<!-- left big building -->
<path fill="#f3f6fa" d="M10,120 L128,22 L280,110 L80,215Z"/>
<path fill="#fbfcfe" d="M10,120 L80,215 L80,270 L10,175Z"/>
<path fill="#e3e9f2" d="M10,175 L80,270 L110,290 L110,360 L70,340 L70,270 L10,230Z"/>
<path fill="#1f3468" d="M80,215 L150,180 L150,205 L80,240Z"/>
<path fill="#c5d3e6" d="M80,240 L150,205 L150,225 L95,255Z"/>
<path fill="#1f3468" d="M100,255 L280,215 L290,270 L160,310 L110,290Z"/>
<path fill="#3a5f9f" d="M150,180 L280,110 L280,222 L165,282Z"/>
<path fill="#a9c6ea" d="M172,195 L270,150 L270,228 L172,272Z"/>
<g stroke="#d9e6f6" stroke-width="3"><path d="M190,200 V262 M207,192 V254 M224,184 V246 M241,176 V238 M258,168 V230"/></g>
<path fill="none" stroke="#dfe9f6" stroke-width="7" d="M176,205 L268,162"/>
<path fill="#e6ecf5" d="M105,95 L165,60 L235,105 L170,140Z"/>
<g><path fill="#4a72b0" d="M108,80 L128,76 L130,104 L106,102Z"/><path fill="#6f94c8" d="M142,78 L158,78 L160,132 L140,130Z"/><path fill="#4a72b0" d="M170,92 L186,92 L188,134 L168,132Z"/><circle cx="209" cy="113" r="10" fill="#f5821f"/></g>
<!-- right building -->
<path fill="#f2f5fa" stroke="#1c2d5e" stroke-width="4" stroke-linejoin="round" d="M558,88 L690,22 L840,112 L728,188Z"/>
<path fill="#e7ecf4" d="M558,92 L728,192 L728,300 L558,205Z"/>
<path fill="#b9c5d9" d="M728,192 L840,116 L840,240 L728,300Z"/>
<path fill="#1f3468" d="M575,168 L660,218 L660,262 L575,215Z"/>
<path fill="#f5651f" d="M640,158 L714,196 L714,210 L640,172Z"/>
<path fill="#2c4a8c" d="M567,118 L592,130 L592,148 L567,136Z"/><path fill="#dfe7f2" d="M572,124 L587,131 L587,142 L572,135Z"/>
<path fill="#1f3468" d="M742,222 L838,178 L838,228 L742,276Z"/>
<path fill="#2c4a8c" d="M797,160 L836,145 L836,175 L797,192Z"/><path fill="#cfdaea" d="M802,165 L814,160 L814,178 L802,183Z M819,158 L831,153 L831,171 L819,176Z"/>
<path fill="#fbfcfe" d="M688,235 L712,248 L712,285 L688,272Z"/><path fill="none" stroke="#6a7fa8" stroke-width="2.5" d="M688,235 L712,248 L712,285 L688,272Z M700,242 V278"/>
<!-- roof box 1 -->
<path fill="#f7f9fc" d="M575,38 L650,5 L712,36 L640,70Z"/>
<path fill="#d5dde9" d="M575,38 L640,70 L640,106 L575,75Z"/>
<path fill="#bcc7d9" d="M640,70 L712,36 L712,72 L640,106Z"/>
<path fill="#6f94c8" d="M635,22 L672,8 L690,16 L652,32Z"/><path fill="#9fb2cf" d="M605,34 L625,26 L640,34 L620,42Z"/>
<!-- roof box 2 -->
<path fill="#f2f5fa" d="M683,98 L770,58 L826,88 L742,130Z"/>
<path fill="#dfe5ef" d="M683,98 L742,130 L742,166 L683,136Z"/>
<path fill="#c3cde0" d="M742,130 L826,88 L826,128 L742,166Z"/>
<path fill="#1f2d50" d="M698,88 L765,58 L805,76 L738,110Z"/>
<path fill="#f5901e" d="M704,80 L768,50 L802,66 L800,76 L738,106 L704,90Z"/>
<path fill="none" stroke="#fbb04a" stroke-width="3" d="M715,78 L770,54 M725,86 L785,60 M735,94 L796,68"/>
<!-- dark machine top centre -->
<path fill="#1f3468" d="M415,145 L490,105 L557,137 L557,165 L517,143 L433,168Z"/>
<path fill="#3a5f9f" d="M430,150 L490,118 L500,124 L440,156Z"/>
<path fill="#dfe7f2" d="M470,135 L500,120 L552,150 L552,165Z"/>
<path fill="#b9c9e2" d="M470,135 L552,165 L552,235 L470,205Z"/>
<path fill="#1f3468" d="M474,168 L548,196 L548,232 L474,204Z"/>
<path fill="#1f3468" d="M500,100 L560,130 L550,150 L490,120Z"/>
<path fill="#f5b04a" d="M500,100 L520,96 L530,112 L512,120Z"/>
<!-- robot 1 -->
<ellipse cx="402" cy="228" rx="48" ry="22" fill="#1f3468"/>
<ellipse cx="402" cy="212" rx="40" ry="17" fill="#3a5f9f"/>
<path fill="#e6edf6" d="M370,180 L432,180 L436,205 C420,218 385,218 366,205Z"/>
<ellipse cx="401" cy="180" rx="31" ry="11" fill="#f7f9fc"/>
<path fill="none" stroke="#c8700e" stroke-width="30" stroke-linecap="round" d="M392,165 L380,148 L470,98"/>
<path fill="none" stroke="#f59a20" stroke-width="23" stroke-linecap="round" d="M392,165 L380,148 L470,98"/>
<path fill="none" stroke="#f9b640" stroke-width="9" stroke-linecap="round" d="M395,140 L465,98"/>
<path fill="none" stroke="#e8c060" stroke-width="4" d="M372,170 C350,185 330,190 300,205"/>
<!-- blue machine block -->
<path fill="#1f3468" d="M200,262 L300,212 L415,272 L312,328Z"/>
<path fill="#e8eef6" d="M312,328 L415,272 L415,282 L312,338Z"/>
<path fill="#3a5fa8" d="M195,265 L312,330 L312,388 L195,322Z"/>
<path fill="#b4cbea" d="M312,336 L415,280 L415,332 L312,388Z"/>
<path fill="#7f9fd0" d="M325,345 L405,302 L405,318 L325,362Z"/>
<path fill="#f0f4fa" d="M240,290 L250,295 L248,325 L240,320Z"/>
<!-- orange pad -->
<path fill="#f5821f" d="M233,240 L298,203 L385,250 L385,262 L322,298 L233,252Z"/>
<path fill="#fbc878" d="M246,236 L298,208 L372,248 L320,278Z"/>
<path fill="#f4f7fb" d="M270,236 L300,221 L345,245 L316,262Z"/>
<path fill="#5a82c0" d="M292,236 L305,230 L322,240 L310,247Z"/>
<!-- small box -->
<path fill="#9ab4d8" d="M355,365 L410,337 L490,376 L440,404Z"/>
<path fill="#5576b2" d="M355,365 L440,404 L440,456 L355,412Z"/>
<path fill="#f2f5fa" d="M440,404 L490,376 L490,430 L440,456Z"/>
<path fill="none" stroke="#7f93b8" stroke-width="3" d="M448,412 L484,392 L484,424 L448,444Z"/>
<!-- conveyor -->
<path fill="#4a5f8c" d="M440,312 L640,205 L668,222 L668,240 L478,345 L440,330Z"/>
<path fill="url(#c5conv)" d="M440,300 L640,195 L668,213 L470,322Z"/>
<path fill="#8ea4c6" d="M445,325 L470,338 L470,362 L445,350Z M478,345 L500,335 L500,360 L478,370Z"/>
<path fill="#dfe7f2" d="M440,300 L470,322 L470,334 L440,314Z"/>
<path fill="#f5901e" d="M618,250 L640,242 L642,280 L620,285Z"/>
<path fill="#3a4f7c" d="M560,268 L610,245 L610,290 L560,300Z"/>
<!-- ramp -->
<path fill="#dfe8f4" d="M640,268 L668,258 L720,320 L695,335Z"/>
<path fill="#3a5fa8" d="M640,268 L695,335 L690,345 L640,290Z"/>
<path fill="#5a82c0" d="M655,270 L665,266 L712,322 L702,327Z"/>
<!-- dark round machine -->
<path fill="#1f3468" d="M672,385 L730,360 L768,382 L712,415Z"/>
<path fill="#2c4688" d="M690,365 L740,350 L745,375 L700,392Z"/>
<circle cx="726" cy="348" r="19" fill="#22386e"/><circle cx="730" cy="345" r="9" fill="#3f5fa0"/>
<path fill="#dfe7f2" d="M690,362 L712,355 L722,368 L700,376Z"/>
<!-- crystal -->
<path fill="#a9bbd6" d="M597,360 L630,342 L656,355 L652,385 L618,398 L597,382Z"/>
<path fill="#dfe8f4" d="M606,362 L630,350 L646,358 L622,372Z"/>
<!-- robot 2 -->
<path fill="#1f3468" d="M502,452 L560,425 L612,450 L552,498Z"/>
<path fill="#2f4d90" d="M502,452 L552,478 L552,498 L505,472Z"/>
<path fill="#5a82c0" d="M518,428 L590,428 L594,450 C575,465 535,465 514,450Z"/>
<path fill="#cfe0f4" d="M525,400 L585,400 L590,425 C570,438 540,438 520,425Z"/>
<path fill="none" stroke="#c8700e" stroke-width="30" stroke-linecap="round" stroke-linejoin="round" d="M555,385 L562,330 L530,295"/>
<path fill="none" stroke="#f59a20" stroke-width="23" stroke-linecap="round" stroke-linejoin="round" d="M555,385 L562,330 L530,295"/>
<path fill="none" stroke="#f9b640" stroke-width="8" stroke-linecap="round" d="M566,340 L566,375"/>
<circle cx="548" cy="380" r="9" fill="#2a2a3a"/>
<path fill="#f5a030" d="M505,282 L540,290 L530,305 L508,298Z"/>
<!-- generator box -->
<path fill="#f7dcb8" d="M762,352 L880,318 L886,334 L790,372Z"/>
<path fill="#e6ecf4" d="M766,270 L850,240 L874,250 L790,286Z"/>
<path fill="#2a4a98" d="M768,275 L790,288 L874,252 L874,328 L788,360 L768,345Z"/>
<path fill="#1f3a80" d="M768,275 L790,288 L790,360 L768,345Z"/>
<path fill="#f5a020" d="M771,285 L791,294 L791,326 L771,318Z"/>
<g fill="#dfe8f4"><ellipse cx="815" cy="310" rx="4" ry="8"/><ellipse cx="835" cy="302" rx="4" ry="8"/><ellipse cx="855" cy="294" rx="4" ry="8"/></g>
<path stroke="#1f2d50" stroke-width="4" d="M940,275 V292" fill="none"/>
<!-- cubes on road -->
<path fill="#1c2d5e" d="M815,415 Q815,398 835,398 Q858,398 858,415 L858,460 L815,468Z"/>
<path fill="#f7f9fc" d="M858,400 L895,378 L942,402 L905,425Z"/><path fill="#e2e8f1" d="M858,400 L905,425 L905,465 L858,440Z"/><path fill="#c4cfe0" d="M905,425 L942,402 L942,442 L905,465Z"/>
<path fill="#e6ecf4" d="M780,428 L812,418 L812,462 L780,472Z"/>
<path fill="#f7f9fc" d="M680,490 L718,470 L762,492 L722,512Z"/><path fill="#e2e8f1" d="M680,490 L722,512 L722,545 L680,530Z"/><path fill="#c4cfe0" d="M722,512 L762,492 L762,530 L722,545Z"/>
<path fill="#1c2d5e" d="M628,520 L680,498 L680,538 L628,538Z"/>
<path fill="#16264f" d="M410,515 L455,505 L490,538 L410,538Z"/>
</svg>
</div>
<div class="card" style="left:710.5px;top:770px;width:279.9px;height:152.4px"><svg viewBox="0 0 1000 543" preserveAspectRatio="none">
<defs>
<pattern id="c6rib" width="26" height="40" patternUnits="userSpaceOnUse"><rect width="26" height="40" fill="#f1a92b"/><rect x="0" width="7" height="40" fill="#e2951c"/><rect x="7" width="4" height="40" fill="#f6bb44"/></pattern>
<linearGradient id="c6road" x1="0" x2="1" y1="0" y2="0"><stop offset="0" stop-color="#55585d"/><stop offset="1" stop-color="#6d7075"/></linearGradient>
<linearGradient id="c6wood" x1="0" x2="1" y1="0" y2="1"><stop offset="0" stop-color="#f4c884"/><stop offset="1" stop-color="#ecb462"/></linearGradient>
</defs>
<rect width="1000" height="543" fill="#fcfcfc"/>
<!-- bg blobs -->
<circle cx="262" cy="105" r="150" fill="#d6dee3"/>
<path fill="#d3dce1" d="M0,235 C45,245 70,300 60,360 C55,390 30,410 0,415Z"/>
<path fill="#dbe2e6" d="M30,543 C40,480 100,440 170,445 C220,450 260,480 300,543Z"/>
<path fill="#dde3e7" d="M600,0 L900,0 C960,40 1000,120 1000,200 L1000,543 L690,543 L600,300Z"/>
<!-- road -->
<path fill="url(#c6road)" d="M25,388 L650,178 L742,228 L742,345 L640,400 L720,520 L700,543 L300,543 L25,408Z"/>
<path fill="#e9a93c" d="M22,395 L300,543 L258,543 L22,420Z"/>
<path fill="#9b9ea3" d="M548,272 L600,250 L738,330 L690,360Z"/>
<path fill="#b8bbc0" d="M612,358 L650,342 L668,352 L668,380 L630,395 L612,385Z"/>
<path fill="#c9ccd1" d="M288,462 L322,448 L350,464 L316,480Z"/><path fill="#c9ccd1" d="M340,492 L368,480 L388,492 L362,506Z"/>
<!-- wood platform -->
<path fill="#dc9c3c" d="M728,528 L1000,390 L1000,415 L738,543 L700,543Z"/>
<path fill="url(#c6wood)" d="M641,384 L735,340 L1000,340 L1000,392 L728,530 L655,492Z"/>
<g stroke="#e0a654" stroke-width="2.5" fill="none"><path d="M650,412 L760,360 M656,440 L800,372 M664,468 L880,362 M690,500 L960,365"/></g>
<!-- truck shadow / chassis -->
<path fill="#2d2f33" d="M120,395 L330,300 L640,165 L650,210 L560,255 L520,265 L380,330 L330,400 L250,440Z"/>
<!-- container side -->
<path fill="url(#c6rib)" d="M378,100 L548,-2 L672,-2 L676,150 L382,300Z"/>
<path fill="#e2951c" d="M382,290 L676,142 L676,152 L382,302Z"/>
<path fill="#f4b436" d="M372,98 L385,95 L390,300 L376,300Z"/>
<!-- container roof -->
<path fill="#f2ae2e" d="M242,40 L305,0 L560,0 L378,104Z"/>
<path fill="#f6ecd2" d="M262,38 L318,4 L540,0 L378,88Z"/>
<g stroke="#e9d9b0" stroke-width="3"><path d="M290,30 L395,78 M318,16 L425,62 M348,6 L455,46 M385,2 L488,30 M430,0 L515,16"/></g>
<!-- container front (open) -->
<path fill="#f2ae2e" d="M242,40 L378,104 L382,300 L372,296 L370,200 L250,150Z"/>
<path fill="#c46c1c" d="M252,88 L370,140 L370,198 L252,152Z"/>
<path fill="#e08e30" d="M290,105 L370,140 L370,198 L300,170Z"/>
<path fill="#f4b840" d="M250,48 L376,106 L345,128 L250,88Z"/>
<!-- rear wheel -->
<ellipse cx="597" cy="215" rx="26" ry="30" fill="#2b2d31"/><ellipse cx="596" cy="216" rx="15" ry="18" fill="#ededed"/><ellipse cx="596" cy="216" rx="7" ry="9" fill="#bfc3c8"/>
<path fill="#4a5a70" d="M500,238 L555,215 L558,250 L505,270Z"/>
<!-- white box -->
<path fill="#f6f3ec" d="M193,202 L275,155 L378,212 L300,256Z"/>
<path fill="#ecebe6" d="M193,202 L300,256 L305,340 L215,300Z"/>
<path fill="#d9d9d9" d="M300,256 L378,212 L380,300 L308,340Z"/>
<path fill="#6a6a6a" d="M322,262 L342,252 L342,258 L322,268Z"/>
<!-- tank -->
<path fill="#c8ccd0" d="M335,338 L385,320 L388,358 L340,378Z"/><path fill="#8a8e94" d="M340,352 L386,334 L387,342 L341,360Z"/>
<!-- cab -->
<path fill="#f6b828" d="M118,250 L205,212 L288,262 L215,302Z"/>
<path fill="#f2a91e" d="M215,302 L290,262 L300,340 L296,378 L215,412Z"/>
<path fill="#23272e" d="M224,312 L282,278 L286,332 L222,366Z"/>
<path fill="#3d4858" d="M240,325 L270,308 L272,330 L240,345Z"/>
<path fill="#f6b828" d="M108,258 L118,250 L215,302 L212,318 L104,268Z"/>
<path fill="#23272e" d="M104,268 L212,318 L208,362 L98,316Z"/>
<path fill="#a9dbe8" d="M112,272 L175,300 C150,310 125,305 106,296Z"/>
<path fill="#f2a91e" d="M98,316 L208,362 L210,410 L98,366Z"/>
<path fill="#d98e14" d="M105,348 L200,388 L200,396 L105,356Z"/>
<path fill="#23272e" d="M95,362 L212,410 L250,400 L250,425 L215,438 L95,388Z"/>
<g fill="#f4f4f0"><path d="M98,372 L118,380 L118,392 L98,384Z"/><path d="M132,396 L162,408 L162,420 L132,408Z"/><path d="M176,414 L196,422 L196,434 L176,426Z"/></g>
<rect x="96" y="254" width="13" height="36" rx="5" fill="#1f2226"/>
<ellipse cx="270" cy="412" rx="28" ry="32" fill="#26282c"/><ellipse cx="268" cy="414" rx="17" ry="20" fill="#ededed"/><ellipse cx="268" cy="414" rx="8" ry="10" fill="#b8bcc2"/>
<!-- flatbed -->
<path fill="#2e3844" d="M368,468 L545,535 L668,462 L672,482 L580,543 L385,543 L372,500Z"/>
<path fill="#8d99a6" d="M362,450 L398,436 L548,506 L545,524Z"/>
<path fill="#5e6c7c" d="M362,450 L545,522 L665,450 L668,468 L545,542 L365,470Z"/>
<ellipse cx="408" cy="522" rx="24" ry="26" fill="#26282c"/><ellipse cx="407" cy="523" rx="13" ry="15" fill="#ededed"/>
<ellipse cx="640" cy="492" rx="14" ry="9" fill="#e8e8e8" transform="rotate(-30 640 492)"/>
<!-- centre boxes -->
<path fill="#b87a2c" d="M472,392 L632,372 L642,465 L546,520 L472,482Z"/>
<path fill="#f7c670" d="M395,355 L472,392 L472,482 L395,442Z"/>
<path fill="#f3b75c" d="M472,392 L542,428 L546,520 L472,482Z"/>
<path fill="#e09e40" d="M542,428 L632,372 L642,465 L546,520Z"/>
<path fill="#f4f0e6" d="M578,402 L602,390 L602,430 L578,442Z"/><path fill="#c9ccd4" d="M583,408 L597,401 L597,422 L583,429Z"/>
<path fill="#f8dca8" d="M415,440 L455,460 L455,470 L415,450Z"/>
<path fill="#f2b458" d="M393,300 L490,256 L612,320 L520,366Z"/>
<path fill="#f6c26c" d="M393,300 L520,366 L523,422 L395,358Z"/>
<path fill="#dd9a3c" d="M520,366 L612,320 L616,378 L523,422Z"/>
<path fill="#f5efe0" d="M430,322 L525,278 L550,292 L455,338 L458,362 L434,350Z"/>
<circle cx="563" cy="372" r="3.5" fill="#4a3418"/>
<!-- pallet -->
<path fill="#3f5268" d="M726,350 L862,415 L996,340 L996,376 L865,444 L728,380Z"/>
<path fill="#587088" d="M726,350 L862,415 L996,340 L990,334 L862,405 L735,345Z"/>
<g fill="#1c2530"><path d="M745,372 L785,392 L785,404 L745,384Z"/><path d="M800,398 L845,420 L845,432 L800,410Z"/><path d="M885,415 L925,393 L925,404 L885,426Z"/><path d="M945,382 L985,360 L985,370 L945,392Z"/></g>
<!-- pallet boxes -->
<path fill="#f4b450" d="M737,200 L860,262 L865,405 L740,345Z"/>
<path fill="#dc9838" d="M860,262 L975,195 L979,335 L865,405Z"/>
<path fill="#f2b458" d="M737,200 L850,135 L975,195 L860,262Z"/>
<path fill="#c8873a" d="M745,200 L790,175 L820,190 L775,215Z"/><path fill="#c8873a" d="M808,160 L850,138 L890,158 L845,180Z"/>
<g stroke="#7a4a18" stroke-width="3" fill="none"><path d="M738,250 L861,310 L976,243"/><path d="M739,298 L863,358 L978,290"/></g>
<path fill="#f2ede2" d="M790,172 L812,162 L925,222 L928,320 L906,330 L904,234Z"/>
<path fill="#d5d8dc" d="M905,235 L926,224 L928,270 L906,282Z"/>
<path fill="#5a6a7a" d="M793,232 L805,226 L808,382 L797,377Z"/>
<path fill="#6a7a8a" d="M793,232 L905,168 L915,174 L805,238Z"/>
</svg>
</div>
</body></html>
